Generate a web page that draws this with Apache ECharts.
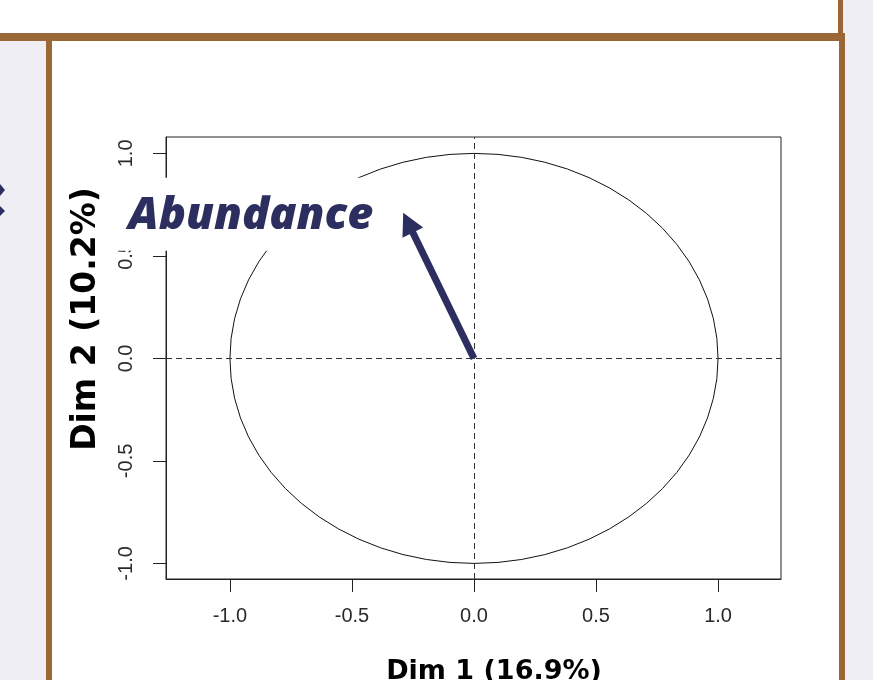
<!DOCTYPE html>
<html>
<head>
<meta charset="utf-8">
<script src="https://cdn.jsdelivr.net/npm/echarts@6/dist/echarts.min.js"></script>
<style>
  html, body { margin: 0; padding: 0; background: #f0eef5; }
  #chart { width: 873px; height: 680px; }
</style>
</head>
<body>
<div id="chart"></div>
<script>
// Variables factor map: correlation of each variable with the first two dimensions
const dimNames = ['Dim 1 (16.9%)', 'Dim 2 (10.2%)'];
const variables = ['Abundance'];
const dim1 = [-0.29];
const dim2 = [0.71];

// Unit correlation circle
const circleCenter = [0, 0];
const circleRadius = 1;

// Tick labels on both axes
const xTicks = [-1.0, -0.5, 0.0, 0.5, 1.0];
const yTicks = [-1.0, -0.5, 0.0, 0.5, 1.0];

const navy = '#2b2e5e';
const brown = '#9c6736';
const lavender = '#f0eef5';

const chart = echarts.init(document.getElementById('chart'), null, { renderer: 'canvas' });

const tickFont = { fontFamily: 'Liberation Sans, Arial, sans-serif', fontSize: 20, color: '#2a2a2a' };

const option = {
  backgroundColor: lavender,
  animation: false,
  graphic: [
    // page panels and frame
    { type: 'rect', z: -10, shape: { x: 0, y: 0, width: 838, height: 33 }, style: { fill: '#ffffff' } },
    { type: 'rect', z: -10, shape: { x: 838, y: 0, width: 5, height: 33 }, style: { fill: brown } },
    { type: 'rect', z: -10, shape: { x: 0, y: 33, width: 845, height: 8 }, style: { fill: brown } },
    { type: 'rect', z: -10, shape: { x: 52, y: 41, width: 787, height: 639 }, style: { fill: '#ffffff' } },
    { type: 'rect', z: -10, shape: { x: 46, y: 41, width: 6, height: 639 }, style: { fill: brown } },
    { type: 'rect', z: -10, shape: { x: 839, y: 41, width: 6, height: 639 }, style: { fill: brown } },
    // navigation chevron at the left edge
    { type: 'polygon', z: -10, shape: { points: [[0, 184], [5, 190], [0, 196]] }, style: { fill: navy } },
    { type: 'polygon', z: -10, shape: { points: [[0, 206], [5, 211], [0, 216]] }, style: { fill: navy } },
    // axis titles
    {
      type: 'text', z: 50, x: 494, y: 672,
      style: {
        text: dimNames[0], fill: '#000', align: 'center', verticalAlign: 'middle',
        font: 'bold 27px "DejaVu Sans", sans-serif'
      }
    },
    {
      type: 'text', z: 50, x: 86, y: 319, rotation: Math.PI / 2,
      style: {
        text: dimNames[1], fill: '#000', align: 'center', verticalAlign: 'middle',
        font: 'bold 33px "DejaVu Sans", sans-serif'
      }
    }
  ],
  grid: {
    left: 166, top: 137, right: 92, bottom: 101,
    show: true, borderColor: '#222', borderWidth: 1, backgroundColor: 'transparent'
  },
  xAxis: {
    type: 'value', min: -1.262, max: 1.258,
    axisLine: { show: true, onZero: false, lineStyle: { color: '#222', width: 1 } },
    axisTick: { show: true, customValues: xTicks, length: 13, lineStyle: { color: '#222' } },
    axisLabel: { show: true, customValues: xTicks, margin: 27, formatter: v => v.toFixed(1), ...tickFont },
    splitLine: { show: false }
  },
  yAxis: {
    type: 'value', min: -1.076, max: 1.08,
    axisLine: { show: true, onZero: false, lineStyle: { color: '#222', width: 1 } },
    axisTick: { show: true, customValues: yTicks, length: 13, lineStyle: { color: '#222' } },
    axisLabel: { show: true, customValues: yTicks, rotate: 90, margin: 30, formatter: v => v.toFixed(1), ...tickFont },
    splitLine: { show: false }
  },
  series: [
    {
      // correlation circle with the two dashed reference axes
      type: 'custom',
      z: 2,
      silent: true,
      data: [circleCenter],
      renderItem: (params, api) => {
        const c = api.coord([api.value(0), api.value(1)]);
        const s = api.size([circleRadius, circleRadius]);
        const rx = s[0], ry = s[1];
        const d = `M${c[0] - rx},${c[1]} A${rx},${ry} 0 1,0 ${c[0] + rx},${c[1]} A${rx},${ry} 0 1,0 ${c[0] - rx},${c[1]} Z`;
        return { type: 'path', shape: { pathData: d }, style: { fill: 'none', stroke: '#111', lineWidth: 1 } };
      },
      markLine: {
        silent: true,
        symbol: 'none',
        label: { show: false },
        lineStyle: { color: '#333', width: 1, type: [6, 4] },
        data: [{ xAxis: 0 }, { yAxis: 0 }]
      }
    },
    {
      // variable vectors
      type: 'custom',
      z: 5,
      silent: true,
      data: variables.map((name, i) => [0, 0, dim1[i], dim2[i]]),
      renderItem: (params, api) => {
        const p0 = api.coord([api.value(0), api.value(1)]);
        const p1 = api.coord([api.value(2), api.value(3)]);
        const dx = p1[0] - p0[0], dy = p1[1] - p0[1];
        const len = Math.sqrt(dx * dx + dy * dy);
        const ux = dx / len, uy = dy / len;
        const headLen = 22, headHalf = 11.5;
        const bx = p1[0] - ux * headLen, by = p1[1] - uy * headLen;
        const px = -uy, py = ux;
        const name = variables[params.dataIndex];
        return {
          type: 'group',
          children: [
            {
              type: 'rect',
              shape: { x: p1[0] - 303, y: p1[1] - 35, width: 285, height: 73 },
              style: { fill: '#ffffff' }
            },
            {
              type: 'line',
              shape: { x1: p0[0], y1: p0[1], x2: bx + ux * 2, y2: by + uy * 2 },
              style: { stroke: navy, lineWidth: 7, lineCap: 'butt' }
            },
            {
              type: 'polygon',
              shape: { points: [[p1[0], p1[1]], [bx + px * headHalf, by + py * headHalf], [bx - px * headHalf, by - py * headHalf]] },
              style: { fill: navy }
            },
            {
              type: 'text',
              x: p1[0] - 30, y: p1[1] + 3,
              style: {
                text: name, fill: navy, align: 'right', verticalAlign: 'middle',
                font: 'italic 800 45px "Open Sans", sans-serif'
              }
            }
          ]
        };
      }
    }
  ]
};

chart.setOption(option);
</script>
</body>
</html>
